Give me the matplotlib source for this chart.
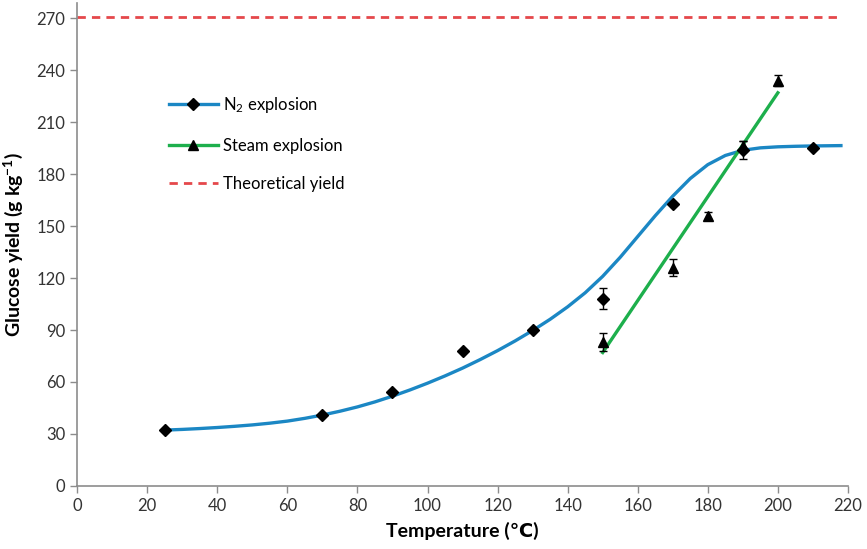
import matplotlib
matplotlib.use("Agg")
import matplotlib.pyplot as plt

plt.rcParams['font.family'] = ['Lato', 'DejaVu Sans']
plt.rcParams['mathtext.default'] = 'regular'

# measured points
n2_temp = [25, 70, 90, 110, 130, 150, 170, 190, 210]
n2_yield = [32, 41, 54, 78, 90, 108, 163, 194, 195]
n2_err = [0, 0, 0, 0, 0, 6, 0, 5, 0]

steam_temp = [150, 170, 180, 190, 200]
steam_yield = [83, 126, 156, 196, 234]
steam_err = [5, 5, 2, 3, 3]

# fitted curve for N2 explosion
fit_temp = [25, 30, 35, 40, 45, 50, 55, 60, 65, 70, 75, 80, 85, 90, 95, 100,
            105, 110, 115, 120, 125, 130, 135, 140, 145, 150, 155, 160, 165,
            170, 175, 180, 185, 190, 195, 200, 205, 210, 218]
fit_yield = [32.2, 32.6, 33.1, 33.7, 34.4, 35.2, 36.2, 37.4, 39.0, 40.9, 43.1, 45.6,
             48.5, 51.8, 55.4, 59.3, 63.5, 68.0, 72.9, 78.1, 83.7, 89.7, 96.2, 103.4,
             111.5, 121.0, 132.0, 144.0, 156.0, 167.3, 177.5, 185.5, 190.8, 193.8,
             195.2, 195.8, 196.1, 196.3, 196.5]

# linear trend for steam explosion
lin_temp = [150, 200]
lin_yield = [77, 227]

theory_yield = 271

fig = plt.figure(figsize=(8.67, 5.49), dpi=100)
ax = fig.add_axes([0.089, 0.115, 0.889, 0.88])

blue = '#1B87C4'
green = '#1DAF4C'
red = '#E5484B'

ax.plot(fit_temp, fit_yield, color=blue, lw=2.4, zorder=2)
ax.plot(lin_temp, lin_yield, color=green, lw=2.4, zorder=2)
ax.axhline(theory_yield, color=red, lw=2, ls=(0, (3, 2.2)), xmin=0, xmax=0.99, zorder=2)

ax.errorbar(n2_temp, n2_yield, yerr=n2_err, fmt='D', color='black', ms=6,
            elinewidth=1, capsize=3, capthick=1, zorder=3)
ax.errorbar(steam_temp, steam_yield, yerr=steam_err, fmt='^', color='black', ms=7,
            elinewidth=1, capsize=3, capthick=1, zorder=3)

# legend handles
h1, = ax.plot([], [], color=blue, lw=2.4, marker='D', mfc='black', mec='black', ms=6)
h2, = ax.plot([], [], color=green, lw=2.4, marker='^', mfc='black', mec='black', ms=7)
h3, = ax.plot([], [], color=red, lw=2, ls=(0, (3, 2.2)))
ax.legend([h1, h2, h3], ['N$_2$ explosion', 'Steam explosion', 'Theoretical yield'],
          loc='upper left', bbox_to_anchor=(0.1, 0.84), frameon=False,
          fontsize=12, labelspacing=1.35, handlelength=2.9, handletextpad=0.3)

ax.set_xlim(0, 220)
ax.set_ylim(0, 279)
ax.set_xticks(range(0, 221, 20))
ax.set_yticks(range(0, 271, 30))

for side in ['top', 'right']:
    ax.spines[side].set_visible(False)
for side in ['left', 'bottom']:
    ax.spines[side].set_color('#8C8C8C')
    ax.spines[side].set_linewidth(1.2)
ax.tick_params(colors='#8C8C8C', labelcolor='#333333', labelsize=12, length=5, width=1)

ax.set_xlabel('Temperature (\u2103)', fontsize=14, fontweight='bold', labelpad=6)
ax.set_ylabel('Glucose yield (g kg$^{-1}$)', fontsize=14, fontweight='bold', labelpad=8)

fig.savefig('out.png', dpi=100)
